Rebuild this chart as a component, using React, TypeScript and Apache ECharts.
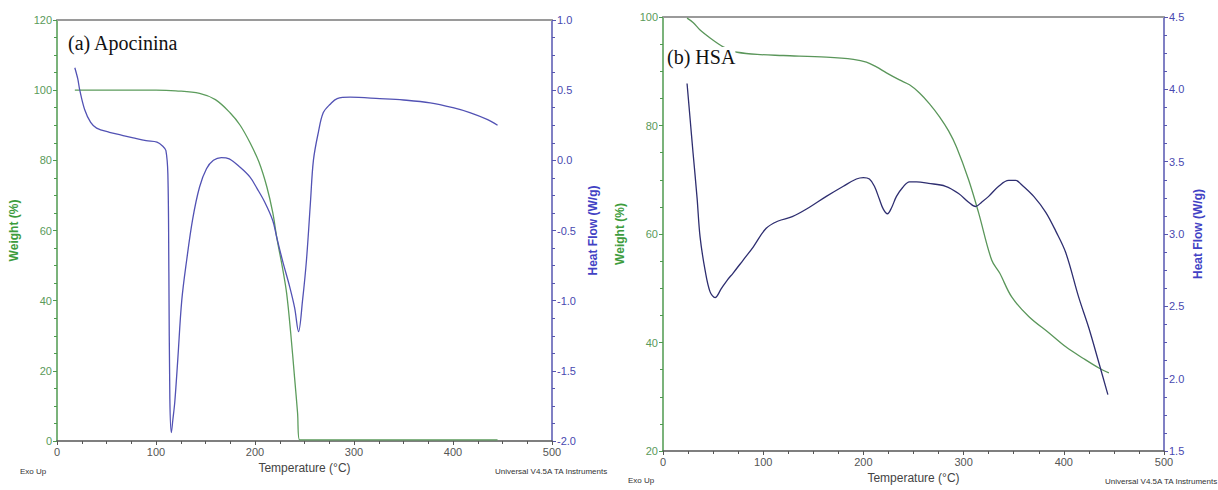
import React, { useEffect, useRef } from "react";
import * as echarts from "echarts";

// Temperature ticks (°C)
const tempTicks = [0, 100, 200, 300, 400, 500];

// (a) Apocinina — weight (%)
const apoWeightT = [18, 60, 100, 120, 144, 160, 175, 185, 195, 204, 212, 218, 222, 228, 232, 236, 240, 243, 245, 300, 350, 400, 445];
const apoWeight = [100, 100, 100, 99.8, 99.1, 97.3, 93.5, 90, 85, 79.5, 72.4, 65, 58, 49, 42, 31, 18, 8, 0.3, 0.3, 0.3, 0.3, 0.3];

// (a) Apocinina — heat flow (W/g)
const apoHeatT = [18, 21, 23, 28, 34, 40, 53, 65, 77, 90, 101, 107, 110, 112, 113, 114, 115.5, 117, 119, 122, 126, 131, 137, 144, 151, 158, 166, 174, 185, 195, 202, 210, 218, 222, 228, 235, 240, 244, 248, 252, 256, 259, 264, 269, 276, 283, 296, 326, 350, 377, 400, 417, 435, 445];
const apoHeat = [0.66, 0.58, 0.5, 0.36, 0.27, 0.23, 0.2, 0.18, 0.16, 0.14, 0.13, 0.1, 0.07, -0.1, -0.8, -1.7, -1.94, -1.85, -1.72, -1.42, -1.0, -0.71, -0.42, -0.19, -0.06, 0.0, 0.02, 0.01, -0.05, -0.12, -0.2, -0.3, -0.43, -0.55, -0.72, -0.9, -1.05, -1.22, -1.0, -0.71, -0.3, 0.0, 0.2, 0.34, 0.4, 0.44, 0.45, 0.44, 0.43, 0.41, 0.375, 0.34, 0.29, 0.25];

// (b) HSA — weight (%)
const hsaWeightT = [24, 30, 37, 48, 60, 68, 74, 94, 120, 163, 190, 203, 213, 223, 236, 246, 256, 266, 276, 285, 293, 305, 315, 328, 336, 348, 365, 385, 402, 420, 435, 445];
const hsaWeight = [99.8, 99, 97.6, 96, 94.5, 93.9, 93.5, 93.1, 92.9, 92.6, 92.2, 91.7, 90.8, 89.7, 88.4, 87.5, 86, 84, 81.6, 79, 76, 70, 63.9, 55.2, 52.8, 48.4, 44.8, 41.8, 39.2, 37, 35.3, 34.4];

// (b) HSA — heat flow (W/g)
const hsaHeatT = [24, 27, 30, 34, 37, 42, 47, 52, 58, 64, 70, 80, 90, 103, 115, 129, 145, 163, 180, 193, 200, 206, 211, 216, 220, 224, 228, 233, 239, 246, 253, 265, 282, 295, 305, 312, 318, 325, 335, 345, 352, 358, 370, 382, 392, 402, 415, 425, 435, 444];
const hsaHeat = [4.04, 3.8, 3.56, 3.25, 2.98, 2.75, 2.6, 2.56, 2.62, 2.68, 2.73, 2.82, 2.91, 3.04, 3.09, 3.12, 3.18, 3.26, 3.33, 3.38, 3.39, 3.38, 3.33, 3.24, 3.17, 3.14, 3.18, 3.26, 3.32, 3.36, 3.36, 3.35, 3.33, 3.28, 3.22, 3.19, 3.22, 3.26, 3.33, 3.37, 3.37, 3.34, 3.26, 3.15, 3.02, 2.87, 2.56, 2.35, 2.11, 1.89];

const pairs = (t: number[], v: number[]) => t.map((x, i) => [x, v[i]]);

const GREEN_AXIS = "#4f9a4f";
const GREEN_TEXT = "#5a9a5a";
const GREEN_NAME = "#3d9c3d";
const BLUE_AXIS = "#5656b0";
const BLUE_TEXT = "#4848b0";
const BLUE_NAME = "#4242c4";
const GRAY = "#555555";
const FONT = "Liberation Sans, Arial, sans-serif";

export default function App() {
  const ref = useRef<HTMLDivElement>(null);
  useEffect(() => {
    if (!ref.current) return;
    const chart = echarts.init(ref.current, undefined, { renderer: "svg" });

    const xBottom = (gridIndex: number, nameGap: number) => ({
      type: "value",
      gridIndex,
      min: tempTicks[0],
      max: tempTicks[tempTicks.length - 1],
      interval: 100,
      name: "Temperature (°C)",
      nameLocation: "middle",
      nameGap,
      nameTextStyle: { color: "#444", fontSize: 12, fontFamily: FONT },
      axisLine: { show: true, onZero: false, lineStyle: { color: GRAY, width: 1.5 } },
      axisTick: { show: true, length: 4, lineStyle: { color: GRAY } },
      minorTick: { show: true, splitNumber: 4, length: 3, lineStyle: { color: GRAY } },
      axisLabel: { color: GRAY, fontSize: 11, fontFamily: FONT, margin: 5 },
      splitLine: { show: false },
    });
    const xTop = (gridIndex: number) => ({
      type: "value",
      gridIndex,
      position: "top",
      min: 0,
      max: 500,
      axisLine: { show: true, onZero: false, lineStyle: { color: "#9a9a9a", width: 2 } },
      axisTick: { show: false },
      axisLabel: { show: false },
      splitLine: { show: false },
    });
    const yAxis = (
      gridIndex: number,
      position: string,
      min: number,
      max: number,
      interval: number,
      name: string,
      nameGap: number,
      axisColor: string,
      textColor: string,
      nameColor: string,
      decimals: number
    ) => ({
      type: "value",
      gridIndex,
      position,
      min,
      max,
      interval,
      name,
      nameLocation: "middle",
      nameRotate: 90,
      nameGap,
      nameTextStyle: { color: nameColor, fontSize: 12, fontWeight: "bold", fontFamily: FONT },
      axisLine: { show: true, onZero: false, lineStyle: { color: axisColor, width: 1.5 } },
      axisTick: { show: true, length: 4, lineStyle: { color: axisColor } },
      minorTick: { show: true, splitNumber: 4, length: 3, lineStyle: { color: axisColor } },
      axisLabel: {
        color: textColor,
        fontSize: 11,
        fontFamily: FONT,
        margin: 5,
        formatter: (v: number) => v.toFixed(decimals),
      },
      splitLine: { show: false },
    });

    const lineSeries = (xi: number, yi: number, data: number[][], color: string, width = 1.3) => ({
      type: "line",
      xAxisIndex: xi,
      yAxisIndex: yi,
      data,
      showSymbol: false,
      smooth: 0.35,
      lineStyle: { color, width },
      z: 3,
    });

    chart.setOption({
      animation: false,
      backgroundColor: "#ffffff",
      textStyle: { fontFamily: FONT },
      grid: [
        { left: 57, top: 20, width: 495, height: 421 },
        { left: 663, top: 17, width: 501, height: 434 },
      ],
      xAxis: [xBottom(0, 20), xBottom(1, 20), xTop(0), xTop(1)],
      yAxis: [
        yAxis(0, "left", 0, 120, 20, "Weight (%)", 37, GREEN_AXIS, GREEN_TEXT, GREEN_NAME, 0),
        yAxis(0, "right", -2, 1, 0.5, "Heat Flow (W/g)", 35, BLUE_AXIS, BLUE_TEXT, BLUE_NAME, 1),
        yAxis(1, "left", 20, 100, 20, "Weight (%)", 37, GREEN_AXIS, GREEN_TEXT, GREEN_NAME, 0),
        yAxis(1, "right", 1.5, 4.5, 0.5, "Heat Flow (W/g)", 28, BLUE_AXIS, BLUE_TEXT, BLUE_NAME, 1),
      ],
      series: [
        lineSeries(0, 0, pairs(apoWeightT, apoWeight), "#5c9c5c"),
        lineSeries(0, 1, pairs(apoHeatT, apoHeat), "#5252b4"),
        lineSeries(1, 2, pairs(hsaWeightT, hsaWeight), "#5a965a"),
        lineSeries(1, 3, pairs(hsaHeatT, hsaHeat), "#2e2e70"),
      ],
      graphic: [
        {
          type: "text",
          left: 68,
          top: 33,
          style: { text: "(a) Apocinina", fill: "#111", fontSize: 20, fontFamily: "Liberation Serif, Times New Roman, serif" },
          z: 10,
        },
        {
          type: "text",
          left: 667,
          top: 47,
          style: { text: "(b) HSA", fill: "#111", fontSize: 20, fontFamily: "Liberation Serif, Times New Roman, serif", backgroundColor: "#ffffff" },
          z: 10,
        },
        { type: "text", left: 20, top: 467, style: { text: "Exo Up", fill: "#333", fontSize: 8, fontFamily: FONT } },
        { type: "text", left: 495, top: 467, style: { text: "Universal V4.5A TA Instruments", fill: "#333", fontSize: 8, fontFamily: FONT } },
        { type: "text", left: 628, top: 476, style: { text: "Exo Up", fill: "#333", fontSize: 8, fontFamily: FONT } },
        { type: "text", left: 1105, top: 477, style: { text: "Universal V4.5A TA Instruments", fill: "#333", fontSize: 8, fontFamily: FONT } },
      ],
    });
    return () => chart.dispose();
  }, []);
  return <div ref={ref} style={{ position: "absolute", left: 0, top: 0, width: 1218, height: 490 }} />;
}
